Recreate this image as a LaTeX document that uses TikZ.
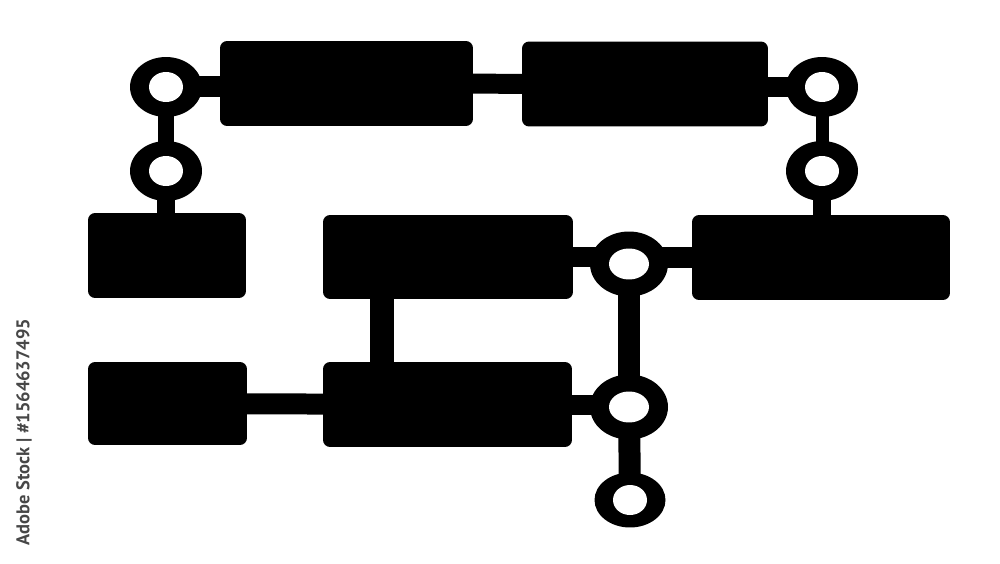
\documentclass[tikz,border=0pt]{standalone}
\usepackage{fontspec}
\newfontfamily\stockfont{PT Sans}
\usetikzlibrary{shapes.geometric,backgrounds}

\begin{document}
\begin{tikzpicture}[x=0.02cm,y=-0.02cm,
  box/.style={fill=black,rounded corners=0.14cm,inner sep=0,minimum height=1.7cm,minimum width=#1},
  ring/.style={ellipse,fill=black,inner sep=0,minimum width=1.44cm,minimum height=1.2cm,
    path picture={\fill[white] (path picture bounding box.center) ellipse [x radius=0.34cm,y radius=0.3cm];}},
  bigring/.style={ring,minimum width=1.56cm,minimum height=1.3cm,
    path picture={\fill[white] (path picture bounding box.center) ellipse [x radius=0.4cm,y radius=0.31cm];}},
  link/.style={draw=black,line width=#1}]
  \useasboundingbox (0,0) rectangle (1000,564);
  % boxes
  \node[box=5.06cm] (A) at (346.5,83.5) {};
  \node[box=4.92cm] (B) at (645,84) {};
  \node[box=3.16cm] (C) at (167,255.5) {};
  \node[box=5cm,minimum height=1.68cm] (D) at (448,257) {};
  \node[box=5.16cm] (E) at (821,257.5) {};
  \node[box=3.18cm,minimum height=1.66cm] (F) at (167.5,403.5) {};
  \node[box=4.98cm] (G) at (447.5,404.5) {};
  % rings
  \node[ring] (R1) at (166,87) {};
  \node[ring] (R2) at (166,171) {};
  \node[ring] (R3) at (822,87) {};
  \node[ring] (R4) at (822,171) {};
  \node[bigring] (R5) at (629,264) {};
  \node[bigring] (R6) at (629,407) {};
  \node[ring,minimum width=1.42cm,minimum height=1.1cm] (R7) at (630,500) {};
  \coordinate (dg) at (382,330);
  % watermark
  \node[rotate=90,text=black!72,font=\stockfont\bfseries\fontsize{10.5}{12}\selectfont] (wm) at (24,432) {Adobe Stock | \#1564637495};
  \begin{scope}[on background layer]
    \draw[link=0.42cm] (R1.center) -- (R1 -| A.center);
    \draw[link=0.4cm] (A.center) -- (B.center);
    \draw[link=0.4cm] (R3.center) -- (R3 -| B.center);
    \draw[link=0.32cm] (R1.center) -- (R2.center);
    \draw[link=0.36cm] (R2.center) -- (R2 |- C.center);
    \draw[link=0.26cm] (R3.center) -- (R4.center);
    \draw[link=0.36cm] (R4.center) -- (R4 |- E.center);
    \draw[link=0.42cm] (D.center) -- (D -| R5.center);
    \draw[link=0.42cm] (E.center) -- (E -| R5.center);
    \draw[link=0.44cm] (R5.center) -- (R6.center);
    \draw[link=0.44cm] (R6.center) -- (R7.center);
    \draw[link=0.4cm] (G.center) -- (G -| R6.center);
    \draw[link=0.42cm] (F.center) -- (G.center);
    \draw[link=0.48cm] (dg |- D.center) -- (dg |- G.center);
  \end{scope}
\end{tikzpicture}
\end{document}
